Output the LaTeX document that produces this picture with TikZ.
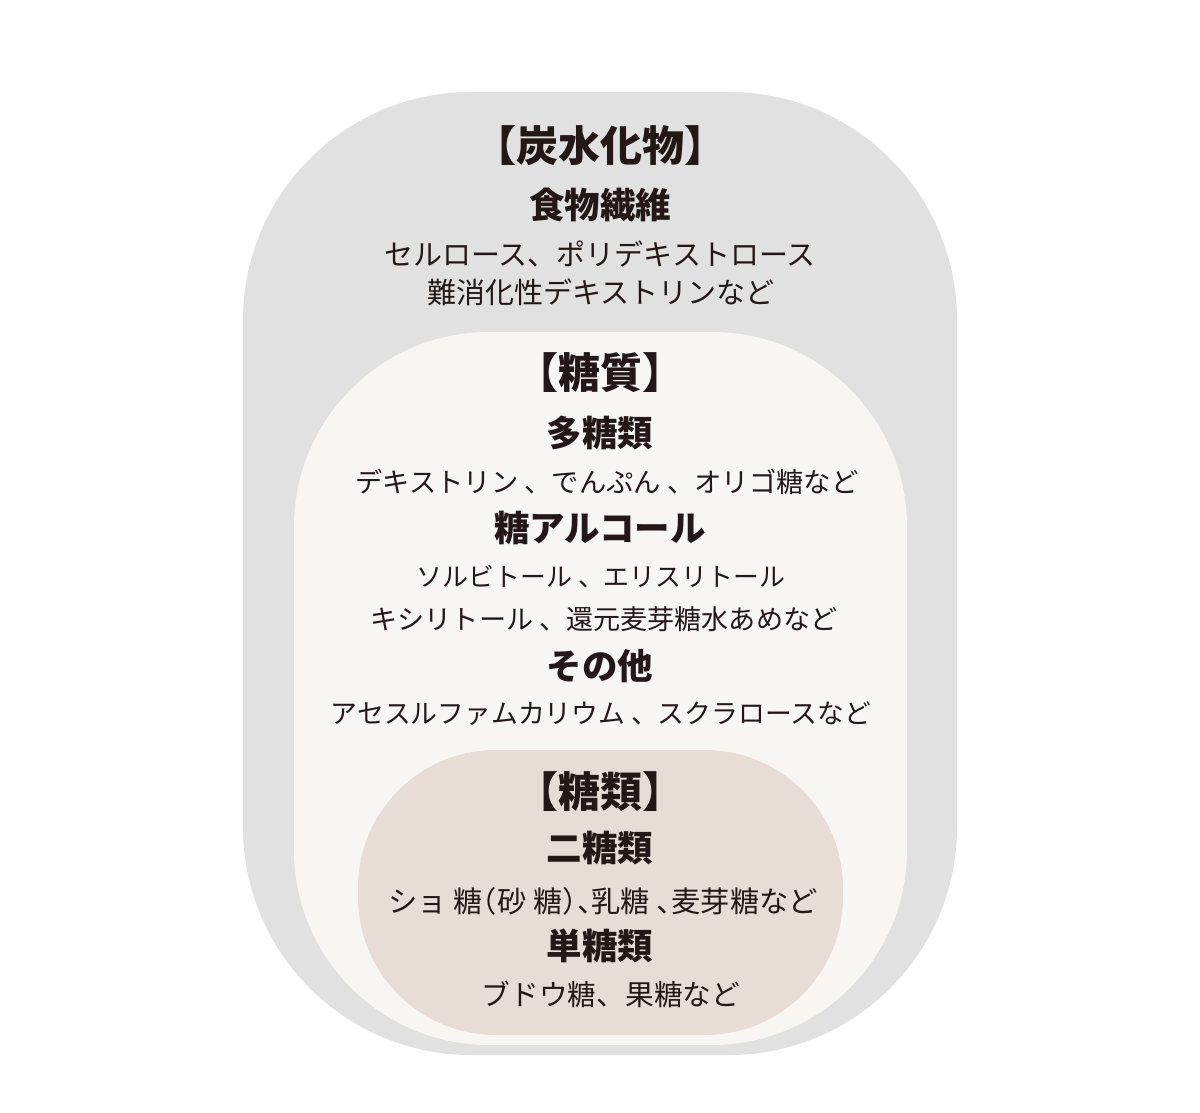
\documentclass[tikz,border=0pt]{standalone}
\usepackage{fontspec}
\setmainfont{Noto Sans CJK JP}
\definecolor{carbgray}{HTML}{E1E1E1}
\definecolor{toushitsu}{HTML}{F8F6F3}
\definecolor{tourui}{HTML}{E8DDD6}
\definecolor{sumi}{HTML}{231815}

\begin{document}
\begin{tikzpicture}[x=1pt, y=-1pt,
    bigttl/.style = {text=sumi, inner sep=0pt, font=\bfseries\fontsize{42}{48}\selectfont},
    subttl/.style = {text=sumi, inner sep=0pt, font=\bfseries\fontsize{35.5}{40}\selectfont},
    itemtxt/.style = {text=sumi, inner sep=0pt, font=\fontsize{#1}{32}\selectfont},
    itemtxt/.default = 29]
    \useasboundingbox (0,0) rectangle (1200,1113);
    \fill [carbgray, rounded corners=228pt] (243,92) rectangle (957,1055);
    \fill [toushitsu, rounded corners=195pt] (294,332) rectangle (907,1045);
    \fill [tourui, rounded corners=138pt] (358,750) rectangle (843,1035);
    \node [bigttl] (carb) at (600,146) {【炭水化物】};
    \node [subttl] (fiber) at (600,205) {食物繊維};
    \node [itemtxt] (fiber1) at (600,254) {セルロース、ポリデキストロース};
    \node [itemtxt] (fiber2) at (601,292) {難消化性デキストリンなど};
    \node [bigttl] (sugar) at (600,373) {【糖質】};
    \node [subttl] (poly) at (600,433) {多糖類};
    \node [itemtxt=27.3] (poly1) at (607,482) {デキストリン 、でんぷん 、オリゴ糖など};
    \node [subttl] (alc) at (600,528) {糖アルコール};
    \node [itemtxt=25.9] (alc1) at (601,577) {ソルビトール 、エリスリトール};
    \node [itemtxt=27.1] (alc2) at (604,619) {キシリトール 、還元麦芽糖水あめなど};
    \node [subttl] (other) at (600,666) {その他};
    \node [itemtxt=26.8] (other1) at (601,714) {アセスルファムカリウム 、スクラロースなど};
    \node [bigttl] (sacc) at (600,792) {【糖類】};
    \node [subttl] (di) at (600,848) {二糖類};
    \node [itemtxt=29.3] (di1) at (603,901) {\addfontfeature{RawFeature=+halt}ショ 糖（砂 糖）、乳糖 、麦芽糖など};
    \node [subttl] (mono) at (600,946) {単糖類};
    \node [itemtxt=28.7] (mono1) at (611,994) {ブドウ糖、果糖など};
\end{tikzpicture}
\end{document}
